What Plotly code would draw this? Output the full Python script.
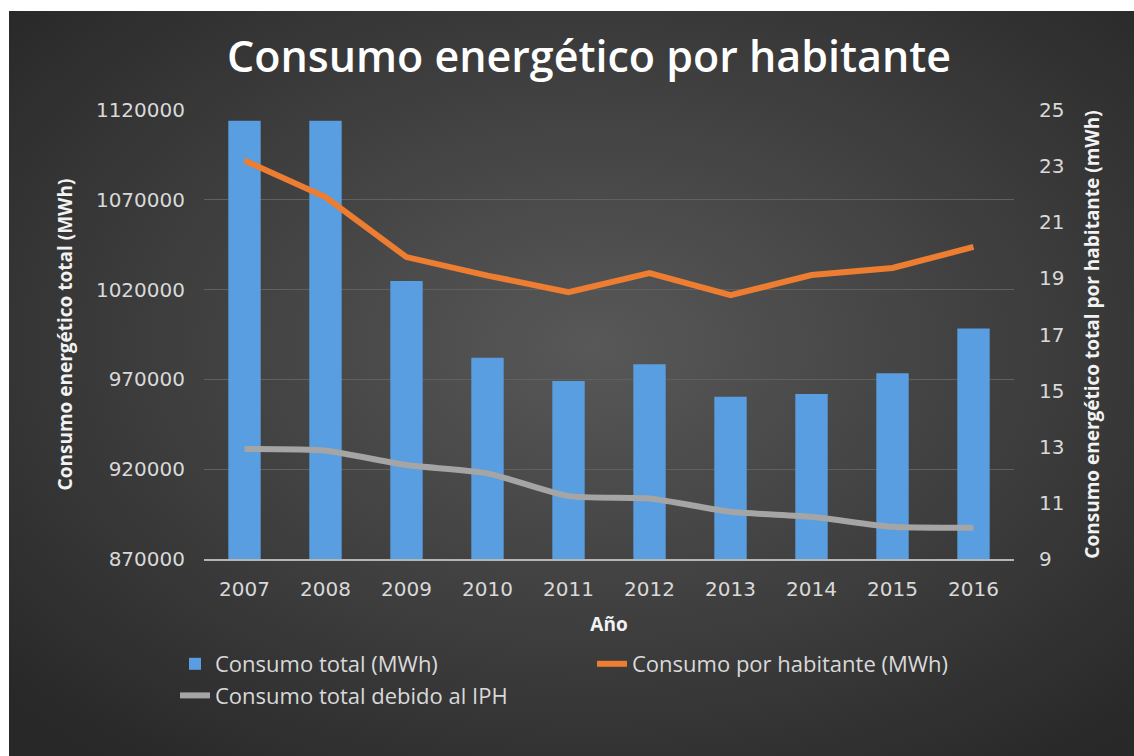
import base64
import plotly.graph_objects as go

# ---- data ----
years = ["2007", "2008", "2009", "2010", "2011", "2012", "2013", "2014", "2015", "2016"]
consumo_total = [1114000, 1114000, 1024800, 982100, 969100, 978400, 960400, 961900, 973400, 998300]
consumo_por_habitante = [23.2, 21.9, 19.76, 19.1, 18.51, 19.19, 18.4, 19.12, 19.37, 20.12]
consumo_iph = [931200, 930300, 922300, 917700, 905000, 903700, 896300, 893500, 887900, 887400]

left_ticks = [870000, 920000, 970000, 1020000, 1070000, 1120000]
right_ticks = [9, 11, 13, 15, 17, 19, 21, 23, 25]

W, H = 1134, 756
ML, MR, MT, MB = 204, 120, 110, 197
PW = W - ML - MR
PH = H - MT - MB

# background radial gradient (as an SVG image)
svg = (
    '<svg xmlns="http://www.w3.org/2000/svg" width="1125" height="745" viewBox="0 0 1125 745" preserveAspectRatio="none">'
    '<defs><radialGradient id="g" cx="52%" cy="45%" r="70%">'
    '<stop offset="0%" stop-color="#585858"/>'
    '<stop offset="100%" stop-color="#282828"/>'
    '</radialGradient></defs>'
    '<rect width="1125" height="745" fill="url(#g)"/></svg>'
)
bg_src = "data:image/svg+xml;base64," + base64.b64encode(svg.encode()).decode()

fig = go.Figure()

fig.add_trace(go.Bar(
    x=years, y=consumo_total, name="Consumo total (MWh)",
    marker=dict(color="#589ee0", line=dict(width=0)),
    yaxis="y",
))
fig.add_trace(go.Scatter(
    x=years, y=consumo_por_habitante, name="Consumo por habitante (MWh)",
    mode="lines", line=dict(color="#ed7d31", width=6),
    yaxis="y2",
))
fig.add_trace(go.Scatter(
    x=years, y=consumo_iph, name="Consumo total debido al IPH",
    mode="lines", line=dict(color="#a5a5a5", width=6, shape="spline", smoothing=0.6),
    yaxis="y",
))

tick_font = dict(family="DejaVu Sans", size=20, color="#d9d9d9")
title_font = dict(family="Open Sans", size=19, color="#f2f2f2", weight="bold")

fig.update_layout(
    width=W, height=H,
    margin=dict(l=ML, r=MR, t=MT, b=MB, autoexpand=False),
    paper_bgcolor="white",
    plot_bgcolor="rgba(0,0,0,0)",
    bargap=0.6,
    images=[dict(
        source=bg_src, xref="paper", yref="paper",
        x=(9 - ML) / PW, y=(H - MB - 11) / PH,
        sizex=(W - 9) / PW, sizey=(H - 11) / PH,
        xanchor="left", yanchor="top", sizing="stretch", layer="below",
    )],
    title=dict(
        text="Consumo energético por habitante",
        x=589 / W, xref="container", xanchor="center",
        y=1 - 57 / H, yref="container", yanchor="middle",
        font=dict(family="Open Sans", size=43, color="white", weight=600),
    ),
    xaxis=dict(
        type="category",
        tickfont=tick_font,
        showgrid=False,
        showline=True, linecolor="#b5b5b5", linewidth=2,
        ticks="", ticklabelstandoff=11,
        title=dict(text="Año", font=title_font, standoff=18),
    ),
    yaxis=dict(
        range=[870000, 1120000],
        tickvals=left_ticks, tickformat="d",
        tickfont=tick_font,
        showgrid=True, gridcolor="#606060", gridwidth=1,
        zeroline=False, showline=False, ticks="",
        ticklabelstandoff=18,
        title=dict(text="Consumo energético total (MWh)", font=title_font, standoff=18),
    ),
    yaxis2=dict(
        range=[9, 25], overlaying="y", side="right",
        tickvals=right_ticks,
        tickfont=tick_font,
        showgrid=False, zeroline=False, showline=False, ticks="",
        ticklabelstandoff=24,
        title=dict(text="Consumo energético total por habitante (mWh)", font=title_font, standoff=22),
    ),
    legend=dict(
        orientation="h",
        x=(175 - ML) / PW, xanchor="left",
        y=(H - MB - 643) / PH, yanchor="top",
        font=dict(family="Open Sans", size=22, color="#d9d9d9"),
        entrywidth=372, entrywidthmode="pixels",
        bgcolor="rgba(0,0,0,0)",
        traceorder="normal",
    ),
    showlegend=True,
)

fig.write_html(
    "out.html",
    config={"displayModeBar": False},
    post_script="document.body.style.margin='0';document.body.style.overflow='hidden';",
)
